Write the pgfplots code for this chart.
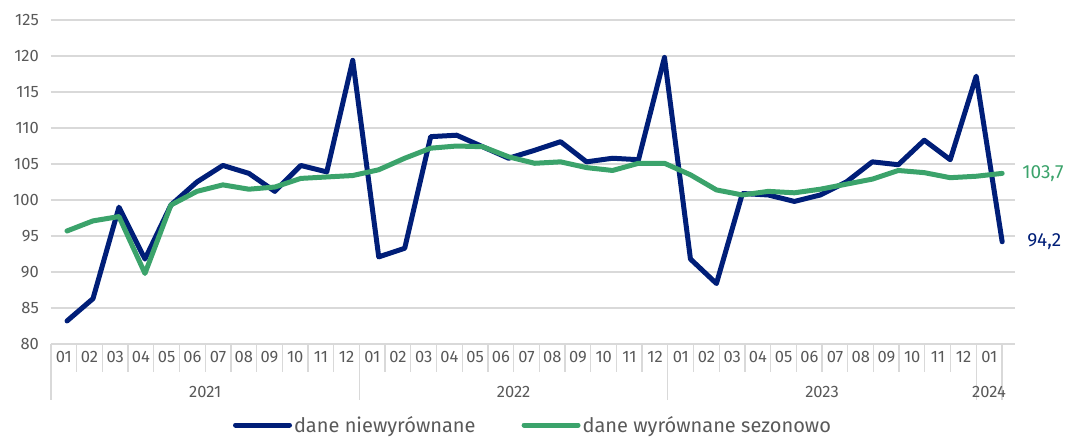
\documentclass[border=0pt]{standalone}
\usepackage{pgfplots}
\pgfplotsset{compat=1.18}
\usepackage{pgfplotstable}
\usepackage{fontspec}
\setmainfont{Fira Sans}
\definecolor{navy}{HTML}{001E78}
\definecolor{grn}{HTML}{3BA36B}
\definecolor{txt}{HTML}{595959}
\definecolor{grd}{HTML}{D9D9D9}

\pgfplotstableread{
m n s
1 83.2 95.7
2 86.3 97.1
3 99.0 97.7
4 91.8 89.8
5 99.3 99.3
6 102.5 101.2
7 104.8 102.1
8 103.7 101.5
9 101.2 101.8
10 104.8 103.0
11 103.9 103.2
12 119.4 103.4
13 92.1 104.2
14 93.3 105.8
15 108.8 107.2
16 109.0 107.5
17 107.4 107.4
18 105.8 106.0
19 106.9 105.1
20 108.1 105.3
21 105.3 104.5
22 105.8 104.1
23 105.6 105.1
24 119.8 105.1
25 91.8 103.5
26 88.4 101.4
27 100.9 100.7
28 100.7 101.2
29 99.8 101.0
30 100.7 101.5
31 102.5 102.2
32 105.3 102.9
33 104.9 104.1
34 108.3 103.8
35 105.6 103.1
36 117.2 103.3
37 94.2 103.7
}\data

\begin{document}
\begin{tikzpicture}[x=1pt,y=1pt]
\path[use as bounding box] (0,0) rectangle (1068,437);
\begin{axis}[
  at={(51pt,93pt)}, anchor=south west,
  scale only axis, width=964pt, height=324pt,
  xmin=0, xmax=37.5, ymin=80, ymax=125,
  ytick={80,85,...,125},
  xtick={0.5,1.5,...,36.5},
  xticklabels={01,02,03,04,05,06,07,08,09,10,11,12,01,02,03,04,05,06,07,08,09,10,11,12,01,02,03,04,05,06,07,08,09,10,11,12,01},
  ymajorgrids, grid style={grd, line width=1.3pt},
  axis line style={draw=none},
  major tick length=0pt,
  tick style={draw=none},
  /pgf/number format/assume math mode=true,
  tick label style={font=\fontsize{16.5}{19}\selectfont, text=txt},
  yticklabel style={anchor=east, inner sep=0pt, xshift=-12pt},
  xticklabel style={anchor=north, inner sep=0pt, yshift=-7pt},
  clip=false,
  legend style={at={(0.5,-0.25)}, anchor=center, draw=none, fill=none,
    legend columns=2, font=\fontsize{20}{23}\selectfont, text=txt,
    /tikz/every even column/.append style={column sep=44pt}},
  legend cell align=left,
]
\addplot[navy, line width=5pt, line join=round, line cap=round,
  legend image code/.code={\draw[navy, line width=5pt, line cap=round] (0pt,0pt) -- (54pt,0pt);}]
  table[x expr=(\coordindex*1.0105+0.623), y=n] {\data};
\addlegendentry{dane niewyrównane}
\addplot[grn, line width=5pt, line join=round, line cap=round,
  legend image code/.code={\draw[grn, line width=5pt, line cap=round] (0pt,0pt) -- (54pt,0pt);}]
  table[x expr=(\coordindex*1.0105+0.623), y=s] {\data};
\addlegendentry{dane wyrównane sezonowo}
\node[anchor=west, text=grn, font=\fontsize{19}{22}\selectfont, inner sep=0pt] at (axis cs:37,103.7) [xshift=20pt] {103,7};
\node[anchor=west, text=navy, font=\fontsize{19}{22}\selectfont, inner sep=0pt] at (axis cs:37,94.2) [xshift=25pt] {94,2};
\end{axis}
% category boxes
\draw[grd, line width=1.3pt] (51,93) -- (1002,93);
\foreach \k in {1,...,11,13,14,...,23,25,26,...,35}{
  \draw[grd, line width=1.3pt] ({51+25.7*\k},93) -- ({51+25.7*\k},65);
}
\foreach \k in {0,12,24,36,37}{
  \draw[grd, line width=1.3pt] ({51+25.7*\k},93) -- ({51+25.7*\k},37);
}
\begin{scope}[every node/.style={text=txt, font=\fontsize{16.5}{19}\selectfont, inner sep=0pt}]
\node at (205.2,45) {2021};
\node at (513.6,45) {2022};
\node at (822,45) {2023};
\node at (989,45) {2024};
\end{scope}
\end{tikzpicture}
\end{document}
